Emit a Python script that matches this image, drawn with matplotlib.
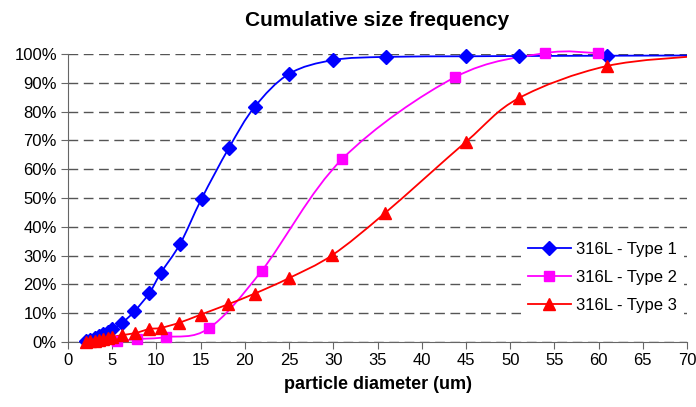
import numpy as np
import matplotlib
matplotlib.use("Agg")
from matplotlib import pyplot as plt
from matplotlib.path import Path
from matplotlib.patches import PathPatch, Rectangle
from matplotlib.lines import Line2D
from matplotlib.ticker import FuncFormatter

plt.rcParams['font.family'] = ['Liberation Sans', 'DejaVu Sans']

# particle diameter (um) and cumulative frequency (%)
type1_x = [2.0, 2.5, 3.0, 3.5, 4.0, 4.5, 5.0, 6.1, 7.5, 9.2, 10.5, 12.7, 15.1,
           18.2, 21.1, 25.0, 30.0, 36.0, 45.0, 51.0, 61.0, 72.0]
type1_y = [0.3, 0.7, 1.3, 2.0, 2.7, 3.5, 4.5, 6.6, 10.6, 17.0, 24.0, 34.2, 49.7,
           67.4, 81.6, 93.1, 97.9, 99.0, 99.2, 99.3, 99.4, 99.5]

type2_x = [5.5, 7.8, 11.1, 15.9, 21.9, 31.0, 43.8, 53.9, 59.9]
type2_y = [0.3, 1.0, 1.7, 4.7, 24.7, 63.5, 92.0, 100.3, 100.3]

type3_x = [2.0, 2.5, 3.0, 3.5, 4.0, 4.5, 5.0, 6.1, 7.6, 9.2, 10.5, 12.6, 15.0,
           18.1, 21.1, 25.0, 29.9, 35.9, 45.0, 51.0, 60.9, 72.0]
type3_y = [0.1, 0.3, 0.5, 0.7, 1.0, 1.3, 1.7, 2.4, 3.1, 4.5, 4.9, 6.7, 9.5,
           13.1, 16.8, 22.2, 30.2, 44.9, 69.5, 84.7, 95.8, 99.5]

labels = ["316L - Type 1", "316L - Type 2", "316L - Type 3"]
colors = ["#0000FF", "#FF00FF", "#FF0000"]
markers = ["D", "s", "^"]
msizes = [7, 6.5, 8]


def smooth_path(x, y):
    # bezier through the points, like Excel's "smoothed line"
    pts = np.column_stack([x, y]).astype(float)
    n = len(pts)
    verts = [pts[0]]
    codes = [Path.MOVETO]
    for i in range(n - 1):
        p0 = pts[i - 1] if i > 0 else pts[i]
        p1, p2 = pts[i], pts[i + 1]
        p3 = pts[i + 2] if i + 2 < n else pts[i + 1]
        verts += [p1 + (p2 - p0) / 6, p2 - (p3 - p1) / 6, p2]
        codes += [Path.CURVE4] * 3
    return Path(verts, codes)


fig = plt.figure(figsize=(6.96, 4.07), dpi=100)
ax = fig.add_axes([68 / 696, 65 / 407, 619 / 696, 288 / 407])
ax.set_xlim(0, 70)
ax.set_ylim(0, 100)

# let the curves poke a little above 100% like the original
clip = Rectangle((-0.05, -0.05), 1.05, 1.1, transform=ax.transAxes,
                 facecolor='none', edgecolor='none')
ax.add_patch(clip)

series = [(type1_x, type1_y), (type2_x, type2_y), (type3_x, type3_y)]
handles = []
for (xs, ys), c, m, ms, lab in zip(series, colors, markers, msizes, labels):
    patch = PathPatch(smooth_path(xs, ys), facecolor='none', edgecolor=c,
                      lw=1.3, transform=ax.transData, zorder=3)
    ax.add_patch(patch)
    patch.set_clip_path(clip)
    pts, = ax.plot(xs, ys, linestyle='none', marker=m, ms=ms, color=c,
                   markeredgecolor=c, zorder=4)
    pts.set_clip_path(clip)
    handles.append(Line2D([], [], color=c, lw=1.3, marker=m, ms=ms,
                          markeredgecolor=c, label=lab))

ax.set_xticks(np.arange(0, 71, 5))
ax.set_yticks(np.arange(0, 101, 10))
ax.yaxis.set_major_formatter(FuncFormatter(lambda v, p: f"{v:.0f}%"))
ax.grid(axis='y', color='#555555', linestyle=(0, (7, 4)), lw=1)
ax.set_axisbelow(True)
for s in ['top', 'right']:
    ax.spines[s].set_visible(False)
for s in ['left', 'bottom']:
    ax.spines[s].set_color('#666666')
ax.tick_params(direction='out', length=5, color='#666666', labelsize=12,
               pad=3)

ax.set_xlabel("particle diameter (um)", fontsize=13, fontweight='bold',
              labelpad=6)
fig.text(377 / 696, 1 - 20 / 407, "Cumulative size frequency", fontsize=15,
         fontweight='bold', ha='center', va='center')

leg = ax.legend(handles=handles, loc='upper left', bbox_to_anchor=(0.732, 0.372),
                borderaxespad=0, frameon=True, fontsize=12, handlelength=2.6,
                handletextpad=0.3, labelspacing=0.8, borderpad=0.4)
leg.get_frame().set_edgecolor('none')
leg.get_frame().set_facecolor('white')
leg.get_frame().set_alpha(1)
leg.set_zorder(5)

fig.savefig("out.png", dpi=100)
